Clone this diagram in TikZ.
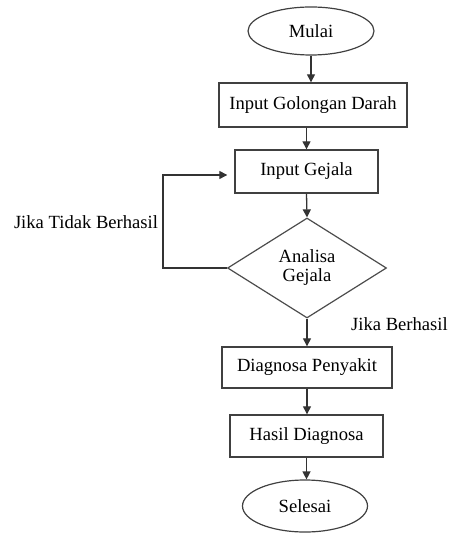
\documentclass[tikz,border=0pt]{standalone}
\usepackage{fontspec}
\setmainfont{Liberation Serif}
\newfontfamily\tnrfont{Liberation Serif}
\usetikzlibrary{shapes.geometric,arrows.meta}
\begin{document}
\begin{tikzpicture}[x=1pt,y=-1pt,
  every node/.style={font=\tnrfont\fontsize{18.6}{20}\selectfont, text=black},
  proc/.style={draw=black!75, line width=1.4pt, rectangle, inner sep=0pt},
  term/.style={draw=black!75, line width=1.2pt, ellipse, inner sep=0pt},
  dec/.style={draw=black!70, line width=1.2pt, diamond, inner sep=0pt, align=center},
  conn/.style={draw=black!80, line width=1.3pt, -{Triangle[length=8pt,width=8pt]}},
  lbl/.style={inner sep=0pt}]
\useasboundingbox (0,0) rectangle (452,534);
\node[term, minimum width=126pt, minimum height=48pt] (mulai) at (311,31) {Mulai};
\node[proc, minimum width=188pt, minimum height=44pt] (gol) at (313,105) {Input Golongan Darah};
\node[proc, minimum width=143pt, minimum height=43pt] (gej) at (306.5,171.5) {Input Gejala};
\node[dec, minimum width=159pt, minimum height=100pt] (ana) at (307,268) {};
\node[lbl, align=center] (anat) at (307,268) {Analisa\\[-1pt]Gejala};
\node[proc, minimum width=170pt, minimum height=41pt] (diag) at (307,367.5) {Diagnosa Penyakit};
\node[proc, minimum width=153pt, minimum height=42pt] (has) at (306.5,436) {Hasil Diagnosa};
\node[term, minimum width=125pt, minimum height=52pt] (sel) at (305,506) {Selesai};
\node[lbl] (tidak) at (86,222) {Jika Tidak Berhasil};
\node[lbl] (ber) at (399.5,324) {Jika Berhasil};
\coordinate (c1) at (163,268);
\coordinate (c2) at (163,175);
\draw[conn] (mulai.south) -- (mulai.south |- gol.north);
\draw[conn] (gej.north |- gol.south) -- (gej.north);
\draw[conn] (gej.south) -- (ana.north);
\draw[conn] (ana.south) -- (ana.south |- diag.north);
\draw[conn] (ana.south |- diag.south) -- (ana.south |- has.north);
\draw[conn] (has.south) -- (has.south |- sel.north);
\draw[conn, shorten >=7pt] (ana.west) -- (c1) -- (c2) -- (gej.west |- c2);
\end{tikzpicture}
\end{document}
